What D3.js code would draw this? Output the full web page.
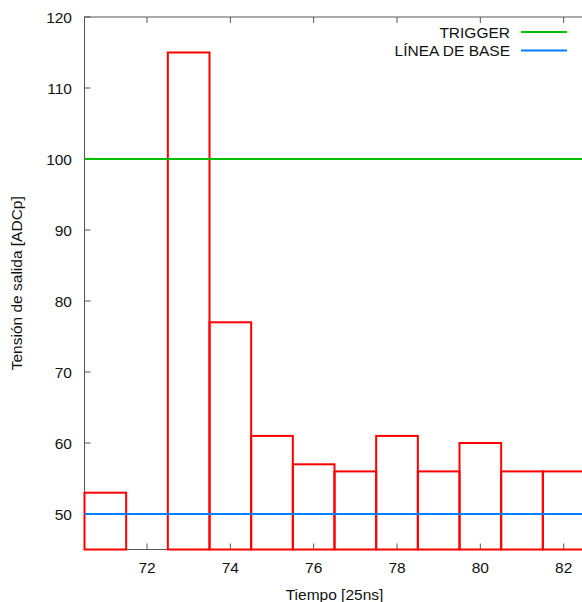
<!DOCTYPE html>
<html>
<head>
<meta charset="utf-8">
<script src="https://cdn.jsdelivr.net/npm/d3@7"></script>
<style>
  body { margin: 0; background: #fff; }
  svg { display: block; font-family: "Liberation Sans", Arial, sans-serif; }
</style>
</head>
<body>
<svg width="582" height="602"></svg>
<script>
// Datos: tiempo (bins de 25ns) y tensión de salida
const tiempo = [71, 72, 73, 74, 75, 76, 77, 78, 79, 80, 81, 82];
const tension = [53, 45, 115, 77, 61, 57, 56, 61, 56, 60, 56, 56];
const trigger = 100;
const base = 50;
const xTicks = [72, 74, 76, 78, 80, 82];
const yTicks = [50, 60, 70, 80, 90, 100, 110, 120];

const svg = d3.select("svg");

// Zona de dibujo (el borde derecho queda fuera de la ventana)
const plotL = 84.5, plotR = 584.5, plotT = 17, plotB = 549.5;

const x = d3.scaleLinear().domain([70.5, 82.5]).range([plotL, plotR]);
const y = d3.scaleLinear().domain([45, 120]).range([plotB, plotT]);

const axisColor = "#555";
const fs = 15.5;

// Marco
svg.append("rect")
  .attr("x", plotL).attr("y", plotT)
  .attr("width", plotR - plotL).attr("height", plotB - plotT)
  .attr("fill", "none").attr("stroke", axisColor).attr("stroke-width", 1);

// Ticks hacia dentro
svg.selectAll("line.ytick")
  .data(yTicks)
  .join("line")
  .attr("class", "ytick")
  .attr("x1", plotL).attr("x2", plotL + 6)
  .attr("y1", d => y(d)).attr("y2", d => y(d))
  .attr("stroke", axisColor);

svg.selectAll("line.xtick")
  .data(xTicks)
  .join("line")
  .attr("class", "xtick")
  .attr("x1", d => x(d)).attr("x2", d => x(d))
  .attr("y1", plotB).attr("y2", plotB - 6)
  .attr("stroke", axisColor);

svg.selectAll("line.xtick2")
  .data(xTicks)
  .join("line")
  .attr("class", "xtick2")
  .attr("x1", d => x(d)).attr("x2", d => x(d))
  .attr("y1", plotT).attr("y2", plotT + 6)
  .attr("stroke", axisColor);

// Etiquetas de los ticks
svg.selectAll("text.ylab")
  .data(yTicks)
  .join("text")
  .attr("class", "ylab")
  .attr("x", 72)
  .attr("y", d => y(d) + 5.5)
  .attr("text-anchor", "end")
  .attr("font-size", fs)
  .attr("fill", "#111")
  .text(d => d);

svg.selectAll("text.xlab")
  .data(xTicks)
  .join("text")
  .attr("class", "xlab")
  .attr("x", d => x(d))
  .attr("y", 573)
  .attr("text-anchor", "middle")
  .attr("font-size", fs)
  .attr("fill", "#111")
  .text(d => d);

// Títulos de los ejes
svg.append("text")
  .attr("transform", `translate(22, ${(plotT + plotB) / 2}) rotate(-90)`)
  .attr("text-anchor", "middle")
  .attr("font-size", fs)
  .attr("fill", "#111")
  .text("Tensión de salida [ADCp]");

svg.append("text")
  .attr("x", (plotL + plotR) / 2)
  .attr("y", 600)
  .attr("text-anchor", "middle")
  .attr("font-size", fs)
  .attr("fill", "#111")
  .text("Tiempo [25ns]");

// Barras (cajas)
svg.selectAll("rect.bar")
  .data(tiempo)
  .join("rect")
  .attr("class", "bar")
  .attr("x", d => x(d - 0.5))
  .attr("width", d => x(d + 0.5) - x(d - 0.5))
  .attr("y", (d, i) => y(tension[i]))
  .attr("height", (d, i) => y(45) - y(tension[i]))
  .attr("fill", "none")
  .attr("stroke", "#ff0000")
  .attr("stroke-width", 2);

// Líneas horizontales
svg.append("line")
  .attr("x1", plotL).attr("x2", plotR)
  .attr("y1", y(trigger)).attr("y2", y(trigger))
  .attr("stroke", "#00c000").attr("stroke-width", 2);

svg.append("line")
  .attr("x1", plotL).attr("x2", plotR)
  .attr("y1", y(base)).attr("y2", y(base))
  .attr("stroke", "#0080ff").attr("stroke-width", 2);

// Leyenda
const leyenda = [
  {label: "TRIGGER", color: "#00c000"},
  {label: "LÍNEA DE BASE", color: "#0080ff"}
];

const lg = svg.selectAll("g.leg")
  .data(leyenda)
  .join("g")
  .attr("class", "leg")
  .attr("transform", (d, i) => `translate(0, ${32 + i * 18.5})`);

lg.append("text")
  .attr("x", 510)
  .attr("y", 5.5)
  .attr("text-anchor", "end")
  .attr("font-size", fs)
  .attr("fill", "#111")
  .text(d => d.label);

lg.append("line")
  .attr("x1", 521).attr("x2", 567)
  .attr("y1", 0).attr("y2", 0)
  .attr("stroke", d => d.color)
  .attr("stroke-width", 2);
</script>
</body>
</html>
